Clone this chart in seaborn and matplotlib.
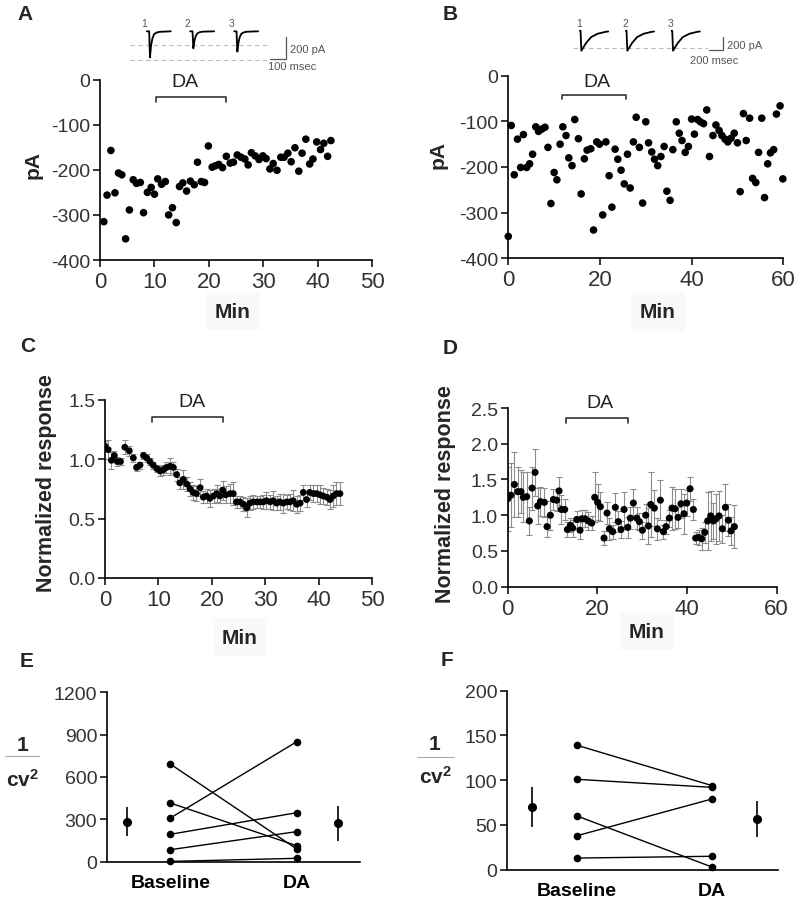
import numpy as np
import pandas as pd
import matplotlib
matplotlib.use("Agg")
import matplotlib.pyplot as plt
from matplotlib.lines import Line2D
import seaborn as sns

# ---------------- data ----------------
# A: single-cell EPSC amplitude (pA) vs time (min)
a_min = [0.7, 1.3, 2.0, 2.75, 3.4, 4.0, 4.7, 5.4, 6.1, 6.7,
         7.4, 8.0, 8.7, 9.4, 10.0, 10.6, 11.3, 12.0, 12.6, 13.3,
         14.0, 14.6, 15.2, 15.9, 16.6, 17.3, 17.9, 18.6, 19.2, 19.9,
         20.6, 21.2, 21.8, 22.5, 23.2, 23.9, 24.5, 25.2, 25.9, 26.6,
         27.2, 27.8, 28.5, 29.2, 29.9, 30.5, 31.2, 31.8, 32.5, 33.2,
         33.8, 34.5, 35.1, 35.8, 36.5, 37.1, 37.8, 38.5, 39.1, 39.8,
         40.5, 41.1, 41.8, 42.4]
a_pa = [-315, -256, -157, -251, -207, -211, -353, -289, -222, -230,
        -228, -295, -250, -239, -254, -220, -232, -226, -300, -284,
        -317, -237, -229, -247, -225, -233, -183, -226, -228, -147,
        -194, -191, -188, -195, -170, -185, -183, -167, -172, -176,
        -189, -162, -169, -177, -169, -175, -198, -186, -201, -172,
        -172, -163, -182, -151, -203, -163, -132, -187, -176, -138,
        -155, -141, -170, -135]

# B: single-cell IPSC amplitude (pA) vs time (min)
b_min = [0, 0.65, 1.3, 2.0, 2.7, 3.3, 4.0, 4.65, 5.3, 6.0,
         6.6, 7.3, 8.0, 8.65, 9.3, 10.0, 10.6, 11.3, 11.9, 12.6,
         13.2, 13.9, 14.5, 15.3, 15.9, 16.6, 17.2, 18.0, 18.6, 19.3,
         19.9, 20.6, 21.3, 22.0, 22.6, 23.3, 23.9, 24.6, 25.3, 26.0,
         26.6, 27.3, 27.9, 28.6, 29.3, 30.0, 30.6, 31.3, 31.9, 32.6,
         33.3, 34.0, 34.6, 35.3, 35.9, 36.65, 37.3, 37.9, 38.6, 39.3,
         40.0, 40.6, 41.3, 41.9, 42.6, 43.3, 43.9, 44.65, 45.3, 46.0,
         46.6, 47.3, 47.9, 48.6, 49.3, 50.0, 50.6, 51.3, 51.9, 52.65,
         53.3, 54.0, 54.6, 55.3, 55.9, 56.6, 57.2, 57.9, 58.5, 59.3,
         59.9]
b_pa = [-352, -109, -217, -139, -201, -129, -201, -193, -172, -112,
        -122, -117, -113, -157, -280, -212, -228, -150, -112, -131,
        -180, -197, -96, -138, -259, -182, -163, -160, -338, -145,
        -150, -305, -145, -219, -288, -161, -183, -207, -237, -172,
        -246, -145, -91, -157, -279, -101, -147, -167, -183, -197,
        -177, -155, -253, -273, -162, -101, -126, -142, -168, -155,
        -95, -128, -96, -101, -105, -75, -177, -131, -108, -120,
        -131, -139, -145, -137, -126, -147, -254, -83, -142, -93,
        -225, -234, -168, -93, -267, -193, -169, -162, -84, -66,
        -226]

# C: normalized response, mean +/- SEM
c_min = [0.0, 0.6, 1.2, 1.75, 2.3, 2.9, 3.7, 4.55, 5.3, 5.9,
         6.55, 7.2, 7.8, 8.4, 9.0, 9.7, 10.3, 10.9, 11.5, 12.2,
         12.8, 13.4, 14.0, 14.65, 15.3, 15.9, 16.5, 17.1, 17.8, 18.4,
         19.0, 19.6, 20.3, 20.9, 21.5, 22.0, 22.6, 23.4, 24.0, 24.6,
         25.25, 25.9, 26.5, 27.1, 27.7, 28.4, 29.0, 29.6, 30.2, 30.9,
         31.5, 32.1, 32.7, 33.35, 34.0, 34.6, 35.2, 35.85, 36.5, 37.1,
         37.7, 38.3, 39.0, 39.6, 40.2, 40.8, 41.5, 42.1, 42.7, 43.3,
         43.95]
c_resp = [1.11, 1.08, 0.99, 1.03, 0.98, 0.98, 1.10, 1.07, 1.01, 0.93,
          0.95, 1.03, 1.01, 0.98, 0.95, 0.92, 0.90, 0.91, 0.93, 0.94,
          0.93, 0.87, 0.80, 0.83, 0.79, 0.75, 0.72, 0.71, 0.76, 0.68,
          0.69, 0.67, 0.69, 0.71, 0.69, 0.74, 0.70, 0.71, 0.71, 0.64,
          0.64, 0.62, 0.59, 0.63, 0.64, 0.64, 0.64, 0.64, 0.65, 0.64,
          0.65, 0.63, 0.64, 0.63, 0.64, 0.64, 0.65, 0.62, 0.63, 0.72,
          0.66, 0.72, 0.71, 0.71, 0.70, 0.69, 0.68, 0.66, 0.69, 0.71,
          0.71]
c_sem = [0.04, 0.08, 0.07, 0.04, 0.04, 0.03, 0.06, 0.04, 0.03, 0.03,
         0.03, 0.03, 0.03, 0.03, 0.03, 0.03, 0.04, 0.04, 0.05, 0.07,
         0.05, 0.05, 0.05, 0.08, 0.06, 0.06, 0.06, 0.06, 0.07, 0.05,
         0.06, 0.07, 0.06, 0.07, 0.06, 0.08, 0.07, 0.08, 0.10, 0.05,
         0.05, 0.06, 0.08, 0.06, 0.06, 0.05, 0.05, 0.06, 0.07, 0.06,
         0.08, 0.06, 0.07, 0.08, 0.06, 0.07, 0.09, 0.07, 0.07, 0.06,
         0.06, 0.06, 0.07, 0.07, 0.08, 0.07, 0.07, 0.08, 0.09, 0.10,
         0.10]

# D: normalized response, mean +/- SEM
d_min = [0.0, 0.74, 1.49, 2.23, 2.97, 3.49, 4.24, 4.83, 5.43, 6.10,
         6.69, 7.29, 8.18, 8.77, 9.52, 10.19, 10.93, 11.45, 11.97, 12.71,
         13.31, 13.98, 14.50, 15.39, 16.13, 16.51, 17.25, 17.99, 18.74, 19.41,
         20.07, 20.67, 21.49, 22.16, 22.68, 23.42, 24.01, 24.68, 25.28, 25.95,
         26.77, 27.36, 28.03, 28.77, 29.37, 30.04, 30.78, 31.38, 31.90, 32.71,
         33.38, 34.05, 34.72, 35.32, 36.06, 36.65, 37.32, 37.99, 38.66, 39.33,
         39.93, 40.67, 41.41, 41.93, 42.60, 43.27, 43.94, 44.61, 45.28, 45.87,
         46.47, 47.14, 47.88, 48.55, 49.22, 49.81, 50.56]
d_resp = [1.23, 1.28, 1.43, 1.33, 1.33, 1.25, 1.26, 0.92, 1.38, 1.60,
          1.13, 1.19, 1.18, 0.84, 1.00, 1.22, 1.21, 1.34, 1.08, 1.08,
          0.80, 0.86, 0.82, 0.94, 0.79, 0.95, 0.95, 0.92, 0.89, 1.25,
          1.18, 1.12, 0.68, 1.03, 0.81, 0.77, 1.11, 0.91, 0.80, 1.08,
          0.83, 0.96, 1.17, 0.96, 0.91, 0.79, 1.00, 0.85, 1.15, 1.10,
          0.81, 1.21, 0.77, 0.84, 0.96, 1.10, 1.09, 0.97, 1.16, 1.02,
          1.17, 1.37, 1.08, 0.68, 0.69, 0.67, 0.76, 0.92, 0.99, 0.92,
          0.95, 0.99, 0.81, 1.11, 0.93, 0.78, 0.84]
d_sem = [0.45, 0.45, 0.45, 0.35, 0.30, 0.35, 0.35, 0.20, 0.30, 0.33,
         0.25, 0.20, 0.20, 0.15, 0.20, 0.15, 0.15, 0.20, 0.20, 0.15,
         0.10, 0.10, 0.12, 0.12, 0.12, 0.12, 0.12, 0.12, 0.10, 0.35,
         0.25, 0.20, 0.10, 0.15, 0.15, 0.10, 0.20, 0.15, 0.12, 0.25,
         0.15, 0.15, 0.20, 0.15, 0.12, 0.12, 0.15, 0.25, 0.46, 0.25,
         0.15, 0.28, 0.10, 0.10, 0.12, 0.30, 0.28, 0.15, 0.20, 0.28,
         0.18, 0.17, 0.15, 0.08, 0.10, 0.15, 0.15, 0.40, 0.35, 0.25,
         0.35, 0.35, 0.20, 0.33, 0.22, 0.20, 0.30]

# E / F: 1/CV^2 per cell, baseline vs DA
conditions = ["Baseline", "DA"]
e_baseline = [692, 416, 309, 194, 85, 2]
e_da = [90, 113, 850, 347, 213, 24]
f_baseline = [139, 101, 60, 38, 13]
f_da = [94, 92, 3, 79, 15]

# DA application windows (min)
a_da_window = [10.2, 23.1]
b_da_window = [11.65, 25.6]
c_da_window = [8.8, 22.1]
d_da_window = [12.95, 26.8]

# example traces: onset time (ms) and peak amplitude (pA)
a_trace_onset = [136, 407, 682]
a_trace_peak = [-236, -155, -185]
a_trace_t = [0, 15, 20, 27, 35, 45, 60, 80, 150]
a_trace_frac = [0, 0, 1.0, 0.55, 0.28, 0.12, 0.05, 0.02, 0]
b_trace_onset = [298, 983, 1664]
b_trace_peak = [-322, -322, -322]
b_trace_t = [0, 8, 20, 90, 165, 265, 390, 420]
b_trace_frac = [0, 0, 1.0, 0.62, 0.32, 0.15, 0.05, 0.04]

# ---------------- style ----------------
sns.set_theme(style="ticks")
plt.rcParams["font.family"] = ["Liberation Sans", "DejaVu Sans"]
plt.rcParams["axes.unicode_minus"] = False
plt.rcParams["mathtext.fontset"] = "custom"
plt.rcParams["mathtext.rm"] = "Liberation Sans"
plt.rcParams["mathtext.bf"] = "Liberation Sans:bold"

W, H = 800, 903
fig = plt.figure(figsize=(W / 100, H / 100), dpi=100)
fig.patch.set_facecolor("white")


def px_axes(left, top, right, bottom):
    return fig.add_axes([left / W, 1 - bottom / H, (right - left) / W, (bottom - top) / H])


def style_axes(ax):
    sns.despine(ax=ax)
    for s in ("left", "bottom"):
        ax.spines[s].set_linewidth(1.2)
        ax.spines[s].set_color("black")
    ax.set_facecolor("white")
    ax.tick_params(direction="out", length=5, width=1.1, color="black", labelcolor="#333333")
    ax.tick_params(axis="x", labelsize=16, pad=3)
    ax.tick_params(axis="y", labelsize=14, pad=2)


def da_bracket(ax, window, y, drop, label_x, label_y):
    x0, x1 = window
    ax.plot([x0, x0, x1, x1], [y - drop, y, y, y - drop], color="#333333", lw=1.2,
            clip_on=False)
    ax.text(label_x, label_y, "DA", ha="center", va="center", fontsize=14, color="#222222")


def min_label(ax, x, y):
    ax.set_xlabel("Min", fontsize=15, fontweight="bold", va="center",
                  bbox=dict(boxstyle="square,pad=0.45", facecolor="#f9f9f9", edgecolor="none"))
    ax.xaxis.set_label_coords(x, y)


def ylabel_at(ax, text, x, y, size):
    ax.set_ylabel(text, fontsize=size, fontweight="bold", va="center")
    ax.yaxis.set_label_coords(x, y)


def panel_letter(x, y, letter):
    fig.text(x / W, 1 - y / H, letter, fontsize=15, fontweight="bold", ha="center", va="center")


# ---------------- A ----------------
axA = px_axes(100, 80.7, 372.3, 261)
sns.scatterplot(x=a_min, y=a_pa, color="black", s=30, edgecolor="none", ax=axA, clip_on=False)
axA.set_xlim(0, 50)
axA.set_ylim(-400, 0)
axA.set_xticks([0, 10, 20, 30, 40, 50])
axA.set_yticks([0, -100, -200, -300, -400])
style_axes(axA)
da_bracket(axA, a_da_window, -37.7, 12, 15.6, -4)
min_label(axA, 0.488, -0.283)
ylabel_at(axA, "pA", -0.245, 0.532, 15)

# ---------------- B ----------------
axB = px_axes(508.3, 76.7, 783.3, 259.3)
sns.scatterplot(x=b_min, y=b_pa, color="black", s=30, edgecolor="none", ax=axB, clip_on=False)
axB.set_xlim(0, 60)
axB.set_ylim(-400, 0)
axB.set_xticks([0, 20, 40, 60])
axB.set_yticks([0, -100, -200, -300, -400])
style_axes(axB)
da_bracket(axB, b_da_window, -42, 9, 19.35, -12)
min_label(axB, 0.544, -0.294)
ylabel_at(axB, "pA", -0.2545, 0.571, 15)

# ---------------- C ----------------
axC = px_axes(105, 400.7, 372.3, 579)
axC.errorbar(c_min, c_resp, yerr=c_sem, fmt="none", ecolor="#8c8c8c", elinewidth=0.8,
             capsize=2.5, capthick=0.8, zorder=1)
sns.scatterplot(x=c_min, y=c_resp, color="black", s=24, edgecolor="none", ax=axC, zorder=3)
axC.set_xlim(0, 50)
axC.set_ylim(0, 1.5)
axC.set_xticks([0, 10, 20, 30, 40, 50])
axC.set_yticks([0.0, 0.5, 1.0, 1.5])
axC.yaxis.set_major_formatter(matplotlib.ticker.FormatStrFormatter("%.1f"))
style_axes(axC)
da_bracket(axC, c_da_window, 1.354, 0.045, 16.3, 1.483)
min_label(axC, 0.505, -0.331)
ylabel_at(axC, "Normalized response", -0.218, 0.537, 15.5)

# ---------------- D ----------------
axD = px_axes(507.7, 409, 776.7, 587.7)
axD.errorbar(d_min, d_resp, yerr=d_sem, fmt="none", ecolor="#8c8c8c", elinewidth=0.8,
             capsize=2.5, capthick=0.8, zorder=1)
sns.scatterplot(x=d_min, y=d_resp, color="black", s=26, edgecolor="none", ax=axD, zorder=3)
axD.set_xlim(0, 60)
axD.set_ylim(0, 2.5)
axD.set_xticks([0, 20, 40, 60])
axD.set_yticks([0.0, 0.5, 1.0, 1.5, 2.0, 2.5])
axD.yaxis.set_major_formatter(matplotlib.ticker.FormatStrFormatter("%.1f"))
style_axes(axD)
da_bracket(axD, d_da_window, 2.355, 0.07, 20.6, 2.58)
min_label(axD, 0.518, -0.248)
ylabel_at(axD, "Normalized response", -0.233, 0.524, 15.5)


# ---------------- E / F ----------------
def paired_panel(ax, baseline, da, ylim, yticks, mean_x):
    n = len(baseline)
    df = pd.DataFrame({
        "cell": list(range(n)) * 2,
        "x": [1] * n + [2] * n,
        "value": list(baseline) + list(da),
    })
    sns.lineplot(data=df, x="x", y="value", units="cell", estimator=None, color="black",
                 lw=1.0, marker="o", markersize=5.5, markeredgewidth=0, ax=ax)
    for line in ax.lines:
        line.set_clip_on(False)
    for xpos, vals in zip(mean_x, (baseline, da)):
        vals = np.asarray(vals, dtype=float)
        sem = vals.std(ddof=1) / np.sqrt(len(vals))
        ax.errorbar(xpos, vals.mean(), yerr=sem, fmt="o", color="black", ms=5.5,
                    elinewidth=1.2, capsize=0, clip_on=False)
    ax.set_ylim(*ylim)
    ax.set_yticks(yticks)
    ax.set_xticks([1, 2])
    ax.set_xticklabels(conditions)
    ax.set_xlabel("")
    ax.set_ylabel("")
    style_axes(ax)
    ax.tick_params(axis="x", length=0, pad=9, labelsize=14, labelcolor="black")
    for lab in ax.get_xticklabels():
        lab.set_fontweight("bold")


axE = px_axes(107, 693.3, 360, 862.7)
paired_panel(axE, e_baseline, e_da, (0, 1200), [0, 300, 600, 900, 1200], [0.66, 2.33])
axE.set_xlim(0.5, 2.5)

axF = px_axes(507, 691.7, 778, 870.7)
paired_panel(axF, f_baseline, f_da, (0, 200), [0, 50, 100, 150, 200], [0.667, 2.333])
axF.set_xlim(0.48, 2.49)


def cv_label(xc, y_one, y_line, y_cv, x0, x1):
    fig.text(xc / W, 1 - y_one / H, "1", fontsize=15, fontweight="bold", ha="center", va="center")
    fig.add_artist(Line2D([x0 / W, x1 / W], [1 - y_line / H] * 2, color="#aaaaaa", lw=0.8))
    fig.text(xc / W, 1 - y_cv / H, r"$\mathbf{cv^2}$", fontsize=15, ha="center", va="center")


cv_label(22.7, 746, 756.7, 780, 5, 39.3)
cv_label(435, 745, 758.3, 777, 416.7, 454)


# ---------------- example traces ----------------
def trace_inset(left, top, right, bottom, xlim, ylim, onsets, peaks, t_shape, f_shape,
                dash_levels, dash_span, bar_x, bar_y, bar_len_t, bar_len_a,
                amp_label, amp_xy, time_label, time_xy, num_dx, num_y):
    ax = px_axes(left, top, right, bottom)
    ax.set_xlim(*xlim)
    ax.set_ylim(*ylim)
    ax.axis("off")
    for lvl in dash_levels:
        ax.plot(dash_span, [lvl, lvl], color="#bbbbbb", lw=0.8, ls=(0, (4, 3)))
    for i, (t0, pk) in enumerate(zip(onsets, peaks)):
        ts = [t0 + t for t in t_shape]
        ys = [pk * f for f in f_shape]
        sns.lineplot(x=ts, y=ys, color="black", lw=1.3, ax=ax, sort=False)
        ax.text(t0 + num_dx, num_y, str(i + 1), fontsize=7.5, color="#555555",
                ha="center", va="center")
    ax.plot([bar_x - bar_len_t, bar_x, bar_x], [bar_y, bar_y, bar_y + bar_len_a],
            color="#555555", lw=0.9)
    ax.text(amp_xy[0], amp_xy[1], amp_label, fontsize=8, color="#555555", ha="left", va="center")
    ax.text(time_xy[0], time_xy[1], time_label, fontsize=8, color="#555555",
            ha="center", va="center")


# A inset: 6.25 ms/px, 9.09 pA/px
trace_inset(125, 18, 330, 78, (0, 1281), (-415, 130),
            a_trace_onset, a_trace_peak, a_trace_t, a_trace_frac,
            [-122, -258], [31, 887], 1006, -252, 100, 200,
            "200 pA", (1031, -161), "100 msec", (1044, -313), -17, 75)

# B inset: 14.9 ms/px, 16.1 pA/px
trace_inset(560, 15, 760, 72, (0, 2980), (-649, 269),
            b_trace_onset, b_trace_peak, b_trace_t, b_trace_frac,
            [-283], [194, 2205], 2424, -306, 200, 200,
            "200 pA", (2484, -225), "200 msec", (2295, -472), -15, 124)

# ---------------- panel letters ----------------
panel_letter(25, 15, "A")
panel_letter(450, 15, "B")
panel_letter(28, 347, "C")
panel_letter(450, 348, "D")
panel_letter(27, 662, "E")
panel_letter(447, 660, "F")

fig.savefig("out.png", dpi=100, facecolor="white")
